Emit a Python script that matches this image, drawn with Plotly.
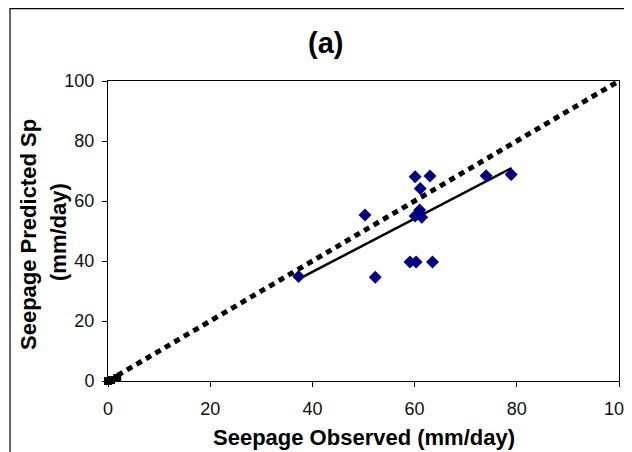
import plotly.graph_objects as go

# Data
observed = [37.3, 50.3, 52.3, 59.1, 60.3, 63.5, 60.1, 61.4, 61.0, 60.1, 63.0, 61.1, 74.0, 78.9]
predicted = [34.8, 55.3, 34.6, 39.7, 39.7, 39.7, 55.0, 54.6, 57.0, 68.1, 68.3, 64.2, 68.4, 68.8]
zero_obs = [0.0, 0.6, 1.8]
zero_pred = [0.0, 0.3, 1.0]
line_11_x = [0, 100]
line_11_y = [0, 100]
trend_x = [37, 79]
trend_y = [33.7, 71.0]
ticks = [0, 20, 40, 60, 80, 100]

FONT = "Liberation Sans, Arial, sans-serif"

fig = go.Figure()
fig.add_trace(go.Scatter(x=line_11_x, y=line_11_y, mode="lines",
                         line=dict(color="black", width=5, dash="6px,5px"),
                         cliponaxis=False, showlegend=False))
fig.add_trace(go.Scatter(x=trend_x, y=trend_y, mode="lines",
                         line=dict(color="black", width=2.5),
                         showlegend=False))
fig.add_trace(go.Scatter(x=observed, y=predicted, mode="markers",
                         marker=dict(symbol="diamond", size=10, color="#000080",
                                     line=dict(width=0)),
                         cliponaxis=False, showlegend=False))
fig.add_trace(go.Scatter(x=zero_obs, y=zero_pred, mode="markers",
                         marker=dict(symbol="square", size=8, color="black",
                                     line=dict(width=0)),
                         cliponaxis=False, showlegend=False))

axis_common = dict(range=[0, 100], tickvals=ticks, showgrid=False, zeroline=False,
                   showline=True, linecolor="black", linewidth=1, mirror=True,
                   ticks="outside", ticklen=5, tickcolor="black", tickwidth=1,
                   ticklabeloverflow="allow", automargin=False,
                   tickfont=dict(family=FONT, size=18, color="#111"))

fig.update_xaxes(**axis_common, ticklabelstandoff=6)
fig.update_yaxes(**axis_common, ticklabelstandoff=4)

# The page body adds an 8px offset, so the figure is 8px smaller and
# positions below are given in screen pixels, then shifted.
OFF = 8
W, H = 632 - OFF, 452 - OFF
L, T = 108 - OFF, 81 - OFF
pw, ph = 511, 300
R, B = W - L - pw, H - T - ph

def px_x(p):
    return (p - OFF - L) / pw

def px_y(p):
    return 1 - (p - OFF - T) / ph

fig.update_layout(
    width=W, height=H,
    margin=dict(l=L, r=R, t=T, b=B, autoexpand=False),
    plot_bgcolor="white", paper_bgcolor="white",
    font=dict(family=FONT, color="black"),
    shapes=[dict(type="rect", xref="paper", yref="paper",
                 x0=px_x(10), x1=px_x(660), y0=px_y(480), y1=px_y(8.7),
                 line=dict(color="black", width=1.2), fillcolor="rgba(0,0,0,0)",
                 layer="below")],
    annotations=[
        dict(text="<b>(a)</b>", xref="paper", yref="paper", x=px_x(325), y=px_y(43),
             showarrow=False, xanchor="center", yanchor="middle",
             font=dict(family=FONT, size=29, color="black")),
        dict(text="<b>Seepage Observed (mm/day)</b>", xref="paper", yref="paper",
             x=px_x(364), y=px_y(437), showarrow=False, xanchor="center", yanchor="middle",
             font=dict(family=FONT, size=22, color="black")),
        dict(text="<b>Seepage Predicted Sp</b>", xref="paper", yref="paper",
             x=px_x(28), y=px_y(235), textangle=-90, showarrow=False,
             xanchor="center", yanchor="middle",
             font=dict(family=FONT, size=22, color="black")),
        dict(text="<b>(mm/day)</b>", xref="paper", yref="paper",
             x=px_x(58), y=px_y(232), textangle=-90, showarrow=False,
             xanchor="center", yanchor="middle",
             font=dict(family=FONT, size=22, color="black")),
    ],
)

fig.write_html("out.html")
